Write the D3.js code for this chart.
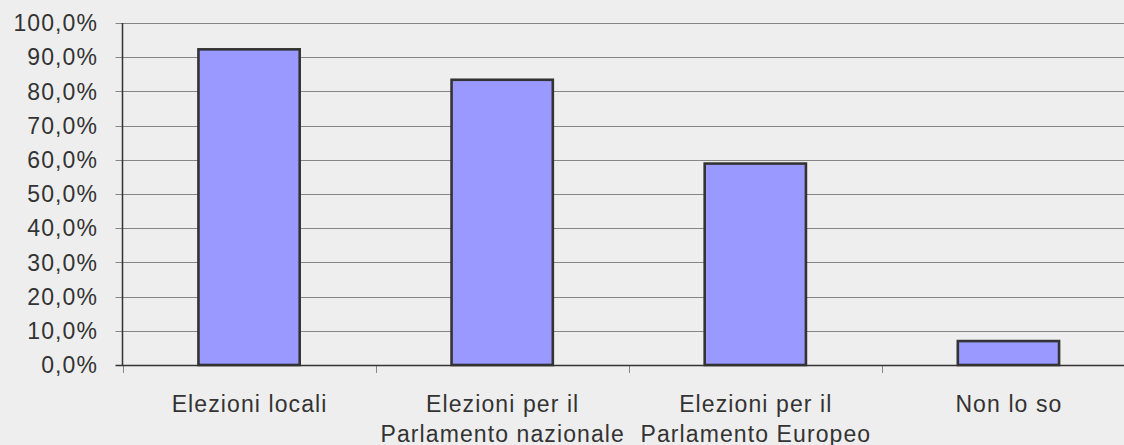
<!DOCTYPE html>
<html>
<head>
<meta charset="utf-8">
<script src="https://cdn.jsdelivr.net/npm/d3@7/dist/d3.min.js"></script>
<style>
  html, body { margin: 0; padding: 0; background: #eeeeee; overflow: hidden; }
  svg { display: block; }
  text { font-family: "Liberation Sans", Arial, sans-serif; fill: #333333; }
</style>
</head>
<body>
<svg id="chart" width="1124" height="445"></svg>
<script>
// Survey answers: share of respondents per election type
const categories = [
  ["Elezioni locali"],
  ["Elezioni per il", "Parlamento nazionale"],
  ["Elezioni per il", "Parlamento Europeo"],
  ["Non lo so"]
];
const values = [0.923, 0.834, 0.589, 0.070];
const yTicks = [0, 0.1, 0.2, 0.3, 0.4, 0.5, 0.6, 0.7, 0.8, 0.9, 1.0];

const W = 1124, H = 445;
const plot = { left: 122.5, right: 1135, top: 23, bottom: 365 };

const svg = d3.select("#chart");
svg.append("rect").attr("width", W).attr("height", H).attr("fill", "#eeeeee");

const keys = categories.map(c => c.join(" "));
const x = d3.scaleBand()
  .domain(keys)
  .range([plot.left, plot.right])
  .paddingInner(0.6)
  .paddingOuter(0.3);

const y = d3.scaleLinear().domain([0, 1]).range([plot.bottom, plot.top]);

const fmt = v => (v * 100).toFixed(1).replace(".", ",") + "%";

// Horizontal gridlines, poking out left of the axis as tick marks
svg.append("g")
  .selectAll("line")
  .data(yTicks.filter(t => t > 0))
  .join("line")
  .attr("x1", plot.left - 7)
  .attr("x2", plot.right)
  .attr("y1", d => Math.round(y(d)) + 0.5)
  .attr("y2", d => Math.round(y(d)) + 0.5)
  .attr("stroke", "#858585")
  .attr("stroke-width", 1.2);

// Y tick labels
svg.append("g")
  .selectAll("text")
  .data(yTicks)
  .join("text")
  .attr("x", 98)
  .attr("y", d => y(d))
  .attr("dy", "0.36em")
  .attr("text-anchor", "end")
  .style("font-size", "23px")
  .style("letter-spacing", "1.1px")
  .text(fmt);

// Bars
svg.append("g")
  .selectAll("rect")
  .data(values)
  .join("rect")
  .attr("x", (d, i) => x(keys[i]))
  .attr("y", d => y(d))
  .attr("width", x.bandwidth())
  .attr("height", d => y(0) - y(d))
  .attr("fill", "#9999ff")
  .attr("stroke", "#333333")
  .attr("stroke-width", 2.6);

// Category separator ticks below the baseline
const bounds = keys.map(k => x(k) - x.step() * x.paddingOuter()).concat([plot.right]);
svg.append("g")
  .selectAll("line")
  .data(bounds)
  .join("line")
  .attr("x1", d => Math.round(d) + 0.5)
  .attr("x2", d => Math.round(d) + 0.5)
  .attr("y1", plot.bottom)
  .attr("y2", plot.bottom + 8)
  .attr("stroke", "#888888")
  .attr("stroke-width", 1);

// Axes lines
svg.append("line")
  .attr("x1", plot.left - 7).attr("x2", plot.right)
  .attr("y1", plot.bottom + 0.5).attr("y2", plot.bottom + 0.5)
  .attr("stroke", "#333333").attr("stroke-width", 1.5);
svg.append("line")
  .attr("x1", plot.left).attr("x2", plot.left)
  .attr("y1", plot.top).attr("y2", plot.bottom)
  .attr("stroke", "#333333").attr("stroke-width", 1.5);

// Category labels (one or two lines)
const lab = svg.append("g")
  .selectAll("text")
  .data(categories)
  .join("text")
  .attr("text-anchor", "middle")
  .style("font-size", "23px")
  .style("letter-spacing", "1.1px")
  .attr("transform", (d, i) => `translate(${x(keys[i]) + x.bandwidth() / 2 + 0.5},412)`);

lab.selectAll("tspan")
  .data(d => d)
  .join("tspan")
  .attr("x", 0)
  .attr("y", (d, i) => i * 29.5)
  .text(d => d);
</script>
</body>
</html>
